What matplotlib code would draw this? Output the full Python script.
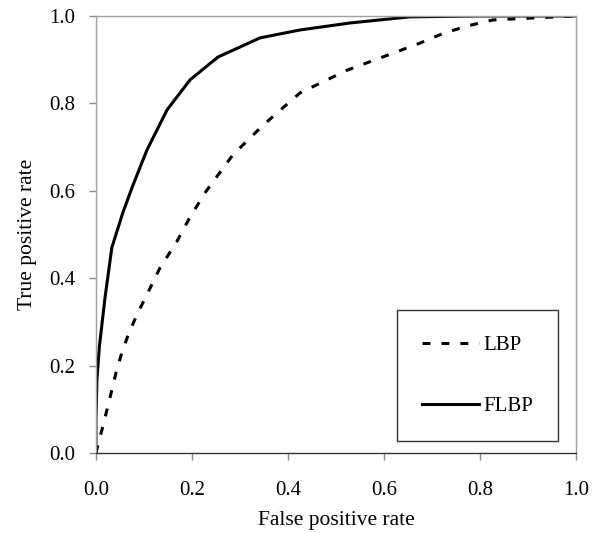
import matplotlib.pyplot as plt

# --- DATA ---
flbp_fpr = [0.0, 0.0, 0.002, 0.007, 0.019, 0.033, 0.056, 0.076, 0.106, 0.148,
            0.196, 0.254, 0.342, 0.425, 0.529, 0.654, 0.8, 1.0]
flbp_tpr = [0.0, 0.08, 0.167, 0.243, 0.357, 0.47, 0.55, 0.61, 0.693, 0.785,
            0.854, 0.906, 0.95, 0.968, 0.984, 0.998, 1.0, 1.0]

lbp_fpr = [0.0, 0.003, 0.015, 0.029, 0.042, 0.054, 0.067, 0.085, 0.106, 0.133,
           0.168, 0.196, 0.23, 0.285, 0.348, 0.425, 0.523, 0.619, 0.675, 0.723,
           0.773, 0.827, 0.94, 1.0]
lbp_tpr = [0.0, 0.014, 0.064, 0.126, 0.185, 0.23, 0.27, 0.316, 0.362, 0.423,
           0.483, 0.54, 0.6, 0.682, 0.75, 0.824, 0.876, 0.915, 0.938, 0.96,
           0.977, 0.991, 0.997, 1.0]

ticks = [0.0, 0.2, 0.4, 0.6, 0.8, 1.0]
tick_labels = ['0.0', '0.2', '0.4', '0.6', '0.8', '1.0']

plt.rcParams['font.family'] = ['Liberation Serif', 'DejaVu Serif']

fig = plt.figure(figsize=(6.01, 5.33), dpi=100)
ax = fig.add_axes([0.1597, 0.150, 0.7987, 0.820])

ax.plot(lbp_fpr, lbp_tpr, color='black', lw=2.2, dashes=(2.6, 3.6), label='LBP')
ax.plot(flbp_fpr, flbp_tpr, color='black', lw=2.2, label='FLBP')

ax.set_xlim(0, 1)
ax.set_ylim(0, 1)
ax.set_xticks(ticks)
ax.set_xticklabels(tick_labels)
ax.set_yticks(ticks)
ax.set_yticklabels(tick_labels)
ax.tick_params(direction='out', length=5, width=1, color='#888888',
               labelsize=15)
ax.tick_params(axis='x', pad=15)
ax.tick_params(axis='y', pad=10)

for side in ['left', 'top', 'right']:
    ax.spines[side].set_color('#a0a0a0')
ax.spines['bottom'].set_color('#333333')
for s in ax.spines.values():
    s.set_linewidth(1.0)

ax.set_xlabel('False positive rate', fontsize=15.5, labelpad=8)
ax.set_ylabel('True positive rate', fontsize=15.5, labelpad=9)

leg = ax.legend(loc='lower right', bbox_to_anchor=(0.962, 0.027),
                frameon=True, fancybox=False, fontsize=15,
                handlelength=2.7, handletextpad=0.2, labelspacing=2.0,
                borderpad=1.2, borderaxespad=0)
leg.get_frame().set_edgecolor('black')
leg.get_frame().set_linewidth(1.0)

fig.savefig('out.png', dpi=100)
